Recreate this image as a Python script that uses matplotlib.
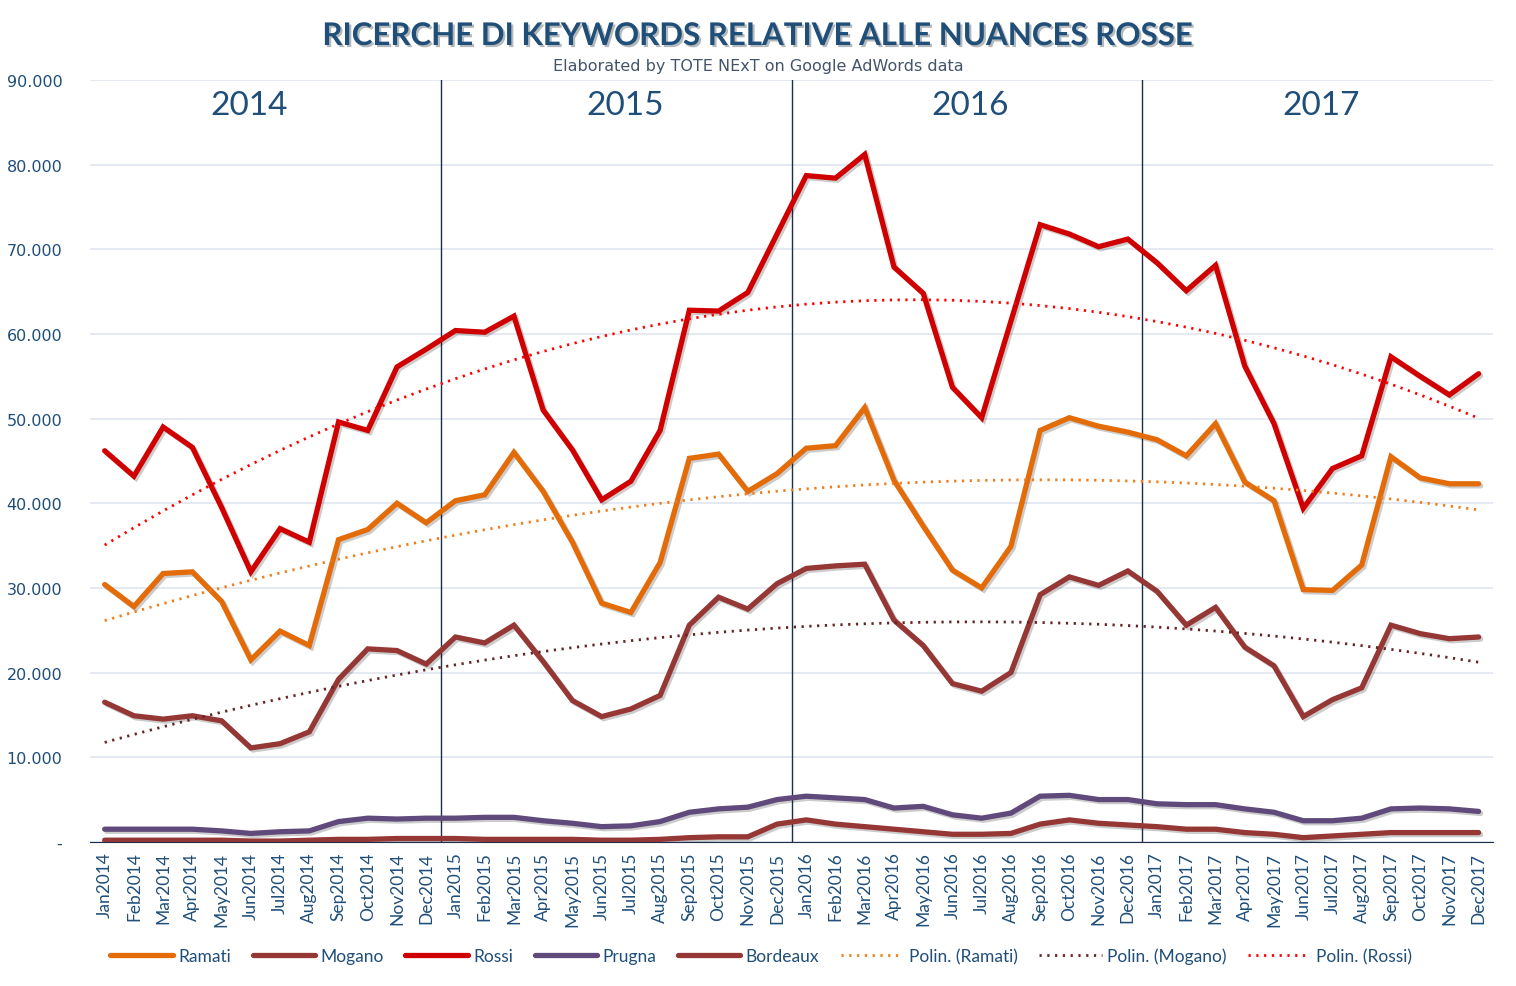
import matplotlib
matplotlib.use("Agg")
import matplotlib.pyplot as plt
import matplotlib.patheffects as pe
import numpy as np
from matplotlib.ticker import FuncFormatter

months = ["Jan", "Feb", "Mar", "Apr", "May", "Jun",
          "Jul", "Aug", "Sep", "Oct", "Nov", "Dec"]
years = ["2014", "2015", "2016", "2017"]
labels = [f"{m}{y}" for y in years for m in months]

# monthly searches (thousands)
ramati = [30.4, 27.8, 31.7, 31.9, 28.4, 21.5, 24.9, 23.2, 35.7, 36.9, 40.0, 37.7,
          40.3, 41.0, 46.0, 41.4, 35.4, 28.2, 27.1, 33.0, 45.3, 45.8, 41.4, 43.5,
          46.5, 46.8, 51.3, 42.7, 37.3, 32.1, 30.0, 34.9, 48.6, 50.1, 49.1, 48.4,
          47.5, 45.6, 49.4, 42.5, 40.3, 29.8, 29.7, 32.7, 45.5, 43.0, 42.3, 42.3]
mogano = [16.5, 14.9, 14.5, 14.9, 14.3, 11.1, 11.6, 13.0, 19.2, 22.8, 22.6, 21.0,
          24.2, 23.5, 25.6, 21.3, 16.7, 14.8, 15.7, 17.3, 25.6, 28.9, 27.5, 30.5,
          32.3, 32.6, 32.8, 26.2, 23.2, 18.7, 17.8, 20.0, 29.2, 31.3, 30.3, 32.0,
          29.6, 25.6, 27.7, 23.0, 20.8, 14.8, 16.8, 18.2, 25.6, 24.6, 24.0, 24.2]
rossi = [46.2, 43.2, 49.0, 46.6, 39.5, 31.9, 37.0, 35.4, 49.6, 48.6, 56.1, 58.2,
         60.4, 60.2, 62.1, 51.0, 46.3, 40.4, 42.6, 48.6, 62.8, 62.7, 64.9, 71.8,
         78.7, 78.4, 81.2, 67.9, 64.8, 53.7, 50.1, 61.5, 72.9, 71.8, 70.3, 71.2,
         68.4, 65.1, 68.1, 56.2, 49.4, 39.4, 44.1, 45.6, 57.3, 55.0, 52.8, 55.3]
prugna = [1.5, 1.5, 1.5, 1.5, 1.3, 1.0, 1.2, 1.3, 2.4, 2.8, 2.7, 2.8,
          2.8, 2.9, 2.9, 2.5, 2.2, 1.8, 1.9, 2.4, 3.5, 3.9, 4.1, 5.0,
          5.4, 5.2, 5.0, 4.0, 4.2, 3.2, 2.8, 3.4, 5.4, 5.5, 5.0, 5.0,
          4.5, 4.4, 4.4, 3.9, 3.5, 2.5, 2.5, 2.8, 3.9, 4.0, 3.9, 3.6]
bordeaux = [0.2, 0.2, 0.2, 0.2, 0.2, 0.1, 0.1, 0.2, 0.3, 0.3, 0.4, 0.4,
            0.4, 0.3, 0.3, 0.3, 0.3, 0.2, 0.2, 0.3, 0.5, 0.6, 0.6, 2.1,
            2.6, 2.1, 1.8, 1.5, 1.2, 0.9, 0.9, 1.0, 2.1, 2.6, 2.2, 2.0,
            1.8, 1.5, 1.5, 1.1, 0.9, 0.5, 0.7, 0.9, 1.1, 1.1, 1.1, 1.1]

TXT = "#1f4e79"
c_ramati, c_mogano, c_rossi = "#e36c09", "#953735", "#d00000"
c_prugna, c_bordeaux = "#604a7b", "#953735"

x = np.arange(len(labels))

fig = plt.figure(figsize=(15.16, 9.87), dpi=100)
ax = fig.add_axes([0.0594, 0.146, 0.9256, 0.772])

shadow = [pe.SimpleLineShadow(offset=(1.5, -1.5), alpha=0.2), pe.Normal()]
handles = []
series = [("Ramati", ramati, c_ramati), ("Mogano", mogano, c_mogano),
          ("Rossi", rossi, c_rossi), ("Prugna", prugna, c_prugna),
          ("Bordeaux", bordeaux, c_bordeaux)]
for name, vals, col in series:
    ax.plot(x, np.array(vals) * 1000, color=col, lw=3.8,
            solid_joinstyle="miter", solid_capstyle="round",
            path_effects=shadow, zorder=3)
    handles.append(plt.Line2D([], [], color=col, lw=3.8, solid_capstyle="round",
                              label=name))

# second order polynomial trend lines, like Excel's "Polin."
for name, vals, col in [("Ramati", ramati, "#f07d1a"), ("Mogano", mogano, "#632523"),
                        ("Rossi", rossi, "#ff0000")]:
    coef = np.polyfit(x, np.array(vals) * 1000, 2)
    ax.plot(x, np.polyval(coef, x), color=col, lw=2.0, ls=(0, (0.8, 2.0)),
            zorder=4)
    handles.append(plt.Line2D([], [], color=col, lw=2.0, ls=(0, (0.8, 2.0)),
                              label=f"Polin. ({name})"))

for sep in [11.5, 23.5, 35.5]:
    ax.axvline(sep, color="#1c2e4a", lw=1.0, zorder=2)

for xpos, yr in zip([4.95, 17.8, 29.6, 41.6], years):
    ax.text(xpos, 87000, yr, ha="center", va="center", fontsize=24,
            color=TXT, family="Lato")

ax.set_xlim(-0.5, len(labels) - 0.5)
ax.set_ylim(0, 90000)
ax.set_yticks(np.arange(0, 90001, 10000))
ax.yaxis.set_major_formatter(FuncFormatter(
    lambda v, p: "-" if v == 0 else f"{int(v):,}".replace(",", ".")))
ax.grid(axis="y", color="#dfe5f0", lw=1.2, zorder=0)
ax.set_axisbelow(True)
ax.set_xticks(x)
ax.set_xticklabels(labels, rotation=90, fontsize=12.5, color=TXT, family="Lato")
ax.tick_params(axis="y", length=0, pad=20, labelsize=11.5, labelcolor=TXT)
ax.tick_params(axis="x", length=0, pad=7)
for s in ["left", "right", "top"]:
    ax.spines[s].set_visible(False)
ax.spines["bottom"].set_color("#1c2e4a")

fig.text(0.5, 0.9625, "RICERCHE DI KEYWORDS RELATIVE ALLE NUANCES ROSSE",
         ha="center", va="center", fontsize=22.5, fontweight="bold", color=TXT,
         family="Lato",
         path_effects=[pe.withSimplePatchShadow(offset=(1.5, -1.5), alpha=0.3)])
fig.text(0.5, 0.933, "Elaborated by TOTE NExT on Google AdWords data",
         ha="center", va="center", fontsize=11.5, color="#44546a")

leg = fig.legend(handles=handles, loc="center", bbox_to_anchor=(0.502, 0.0304),
                 ncol=8, frameon=False, handlelength=3.6, handletextpad=0.3,
                 columnspacing=1.25, prop={"family": "Lato", "size": 12.5})
for t in leg.get_texts():
    t.set_color(TXT)

fig.savefig("out.png", dpi=100)
